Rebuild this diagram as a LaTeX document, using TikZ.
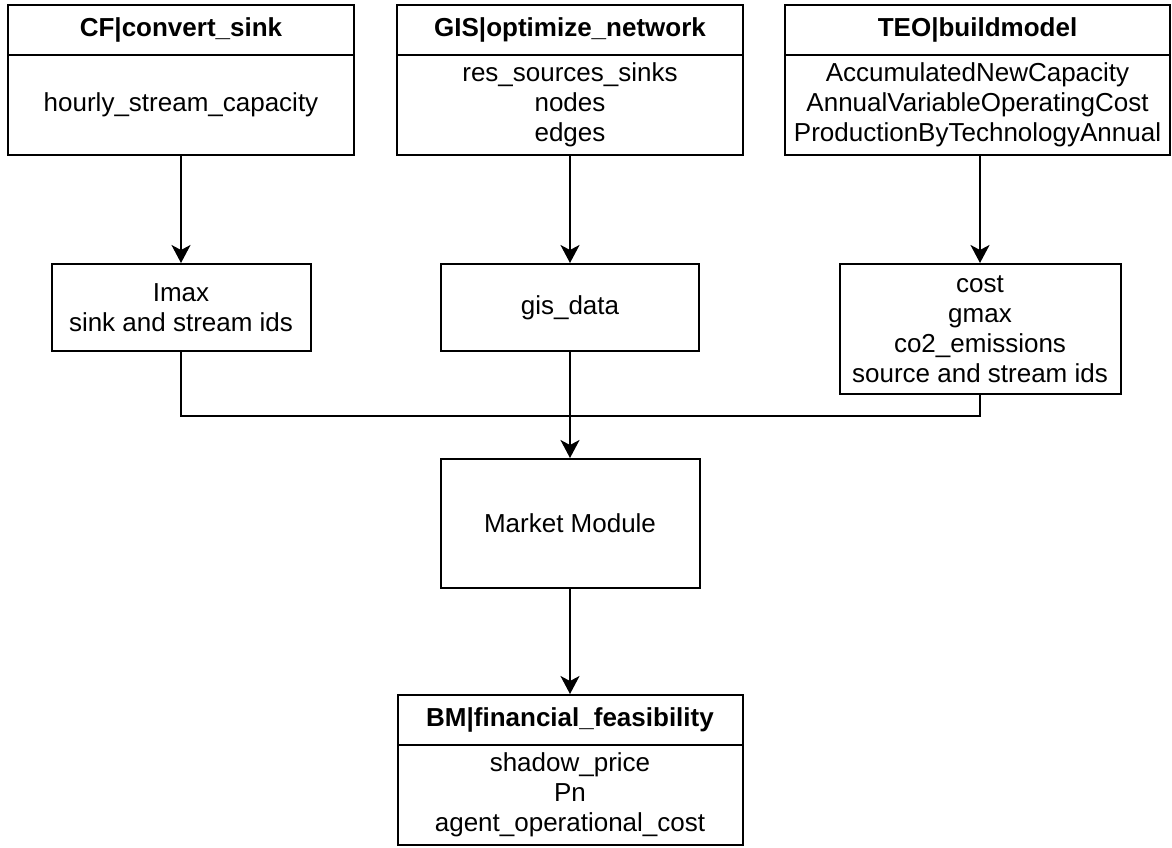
\documentclass[tikz,border=0pt]{standalone}
\usepackage{fontspec}
\setmainfont{Liberation Sans}
\usetikzlibrary{arrows.meta}
\begin{document}
\begin{tikzpicture}[x=1pt,y=-1pt,
  every node/.style={font=\fontsize{26}{30}\selectfont},
  box/.style={draw, line width=2pt, rectangle, inner sep=0pt, align=center},
  head/.style={box, font=\fontsize{26}{30}\selectfont\bfseries},
  flow/.style={line width=2pt, -{Stealth[length=18pt,width=19pt,inset=5pt]}},
  link/.style={line width=2pt}]
\useasboundingbox (0,0) rectangle (1172,847);

% source modules (header + outputs)
\node[head, minimum width=346pt, minimum height=50pt] (cfh) at (181,30) {CF|convert\_sink};
\node[box, minimum width=346pt, minimum height=100pt] (cf) at (181,105) {hourly\_stream\_capacity};

\node[head, minimum width=346pt, minimum height=50pt] (gish) at (570,30) {GIS|optimize\_network};
\node[box, minimum width=346pt, minimum height=100pt] (gis) at (570,105) {res\_sources\_sinks\\nodes\\edges};

\node[head, minimum width=385pt, minimum height=50pt] (teoh) at (977.5,30) {TEO|buildmodel};
\node[box, minimum width=385pt, minimum height=100pt] (teo) at (977.5,105) {AccumulatedNewCapacity\\AnnualVariableOperatingCost\\ProductionByTechnologyAnnual};

% data passed on
\node[box, minimum width=259pt, minimum height=87pt] (imax) at (181,307.5) {Imax\\sink and stream ids};
\node[box, minimum width=258pt, minimum height=87pt] (gisdata) at (570,307.5) {gis\_data};
\node[box, minimum width=281pt, minimum height=130pt] (cost) at (980,329) {cost\\gmax\\co2\_emissions\\source and stream ids};

% market and business modules
\node[box, minimum width=259pt, minimum height=129pt] (market) at (570,523.5) {Market Module};

\node[head, minimum width=345pt, minimum height=50pt] (bmh) at (570,720) {BM|financial\_feasibility};
\node[box, minimum width=345pt, minimum height=100pt] (bm) at (570,795) {shadow\_price\\Pn\\agent\_operational\_cost};

% junction of the three data streams
\coordinate (join) at (570,416);

\draw[flow] (cf.south -| imax.north) -- (imax.north);
\draw[flow] (gis.south) -- (gisdata.north);
\draw[flow] (teo.south -| cost.north) -- (cost.north);

\draw[link] (imax.south) |- (join);
\draw[link] (cost.south) |- (join);
\draw[flow] (gisdata.south) -- (market.north);
\draw[flow] (market.south) -- (bmh.north);
\end{tikzpicture}
\end{document}
